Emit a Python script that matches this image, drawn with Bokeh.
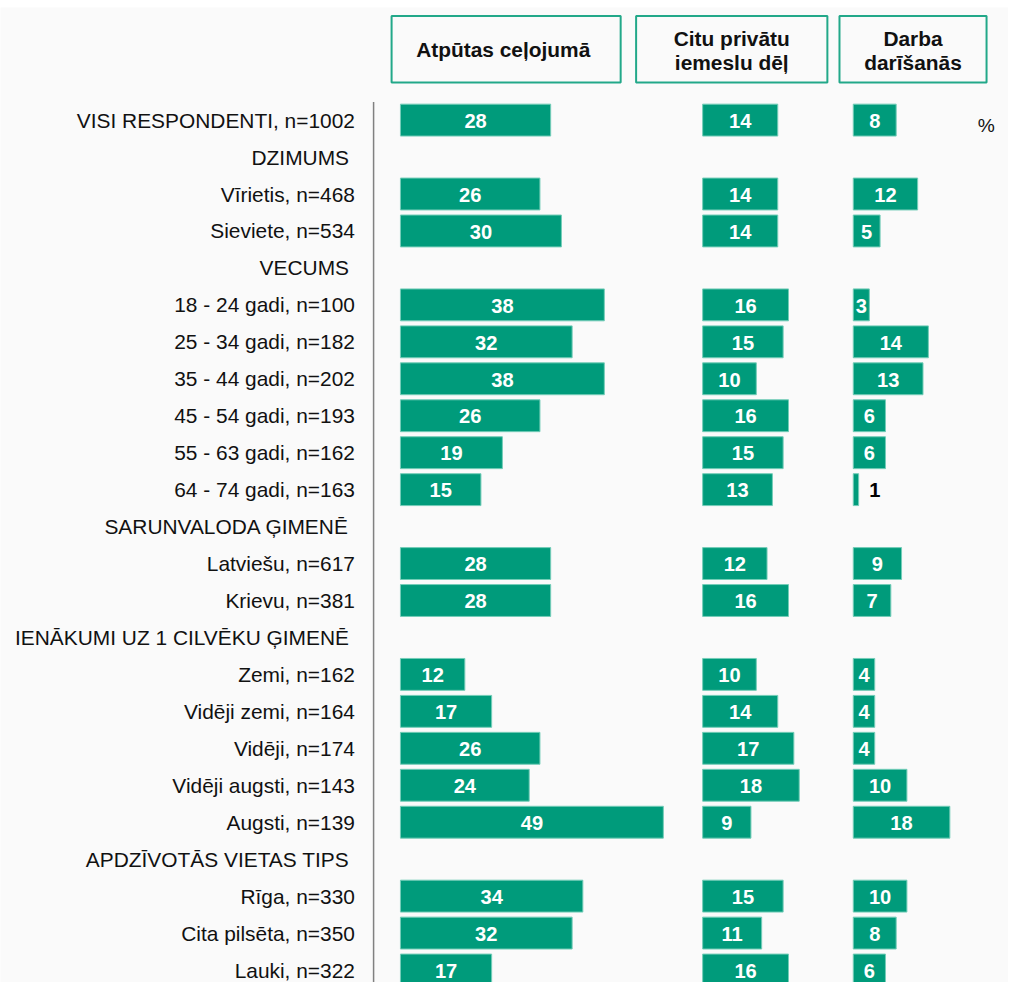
from bokeh.plotting import figure
from bokeh.models import Range1d, ColumnDataSource
from bokeh.core.properties import value
from bokeh.embed import file_html
from bokeh.resources import INLINE

# ---------------- data ----------------
row_labels = [
    "VISI RESPONDENTI, n=1002",
    "DZIMUMS",
    "Vīrietis, n=468", "Sieviete, n=534",
    "VECUMS",
    "18 - 24 gadi, n=100", "25 - 34 gadi, n=182", "35 - 44 gadi, n=202",
    "45 - 54 gadi, n=193", "55 - 63 gadi, n=162", "64 - 74 gadi, n=163",
    "SARUNVALODA ĢIMENĒ",
    "Latviešu, n=617", "Krievu, n=381",
    "IENĀKUMI UZ 1 CILVĒKU ĢIMENĒ",
    "Zemi, n=162", "Vidēji zemi, n=164", "Vidēji, n=174",
    "Vidēji augsti, n=143", "Augsti, n=139",
    "APDZĪVOTĀS VIETAS TIPS",
    "Rīga, n=330", "Cita pilsēta, n=350", "Lauki, n=322",
]
group_headers = ["DZIMUMS", "VECUMS", "SARUNVALODA ĢIMENĒ",
                 "IENĀKUMI UZ 1 CILVĒKU ĢIMENĒ", "APDZĪVOTĀS VIETAS TIPS"]

series_names = [["Atpūtas  ceļojumā"], ["Citu privātu", "iemeslu dēļ"], ["Darba", "darīšanās"]]

atputas = [28, 26, 30, 38, 32, 38, 26, 19, 15, 28, 28, 12, 17, 26, 24, 49, 34, 32, 17]
citu    = [14, 14, 14, 16, 15, 10, 16, 15, 13, 12, 16, 10, 14, 17, 18, 9, 15, 11, 16]
darba   = [8, 12, 5, 3, 14, 13, 6, 6, 1, 9, 7, 4, 4, 4, 10, 18, 10, 8, 6]
unit_label = "%"

# ---------------- layout ----------------
W, H = 1008, 982
F = W / 1024.0           # overall scale of the layout
TOP = 7                  # white strip at the top
K = 5.45                 # layout px per percentage point
S = 37.54                # layout px per row
X0 = 406.3               # layout x of first panel origin
Y0 = 121.5               # layout y of first row centre

def X(px):
    return (px - X0) / K

def Y(py):
    return (py - Y0) / S

def fs(px):
    return "%.1fpx" % (px * F)

offsets = [0.0, X(713.3), X(866.3)]

BAR = "#009b7b"
EDGE = "#74cdb8"
BOX = "#22a889"
FONT = value("Liberation Sans")

p = figure(width=W, height=H, output_backend="svg", toolbar_location=None,
           x_range=Range1d(X(0), X(W / F)),
           y_range=Range1d(Y(H / F), Y(TOP / F)),
           x_axis_location=None, y_axis_location=None,
           min_border=0, min_border_top=TOP)
p.grid.visible = False
p.outline_line_color = None
p.background_fill_color = "#fafafa"
p.border_fill_color = "white"

data_rows = [i for i, lab in enumerate(row_labels) if lab not in group_headers]
head_rows = [i for i, lab in enumerate(row_labels) if lab in group_headers]

# row labels
p.text(x=[X(360)] * len(data_rows), y=data_rows,
       text=[row_labels[i] for i in data_rows],
       text_align="right", text_baseline="middle", text_font=FONT,
       text_font_size=fs(21.2), text_color="#111111")
p.text(x=[X(354)] * len(head_rows), y=head_rows,
       text=[row_labels[i] for i in head_rows],
       text_align="right", text_baseline="middle", text_font=FONT,
       text_font_size=fs(21.2), text_color="#111111")

# separator line
p.segment(x0=[X(379)], y0=[Y(103)], x1=[X(379)], y1=[Y(H / F + 5)],
          line_color="#808080", line_width=1.5)

# bars
for off, vals in zip(offsets, [atputas, citu, darba]):
    src = ColumnDataSource(dict(
        y=data_rows,
        left=[off] * len(vals),
        right=[off + v for v in vals],
    ))
    p.hbar(y="y", left="left", right="right", height=0.863, source=src,
           fill_color=BAR, line_color=EDGE, line_width=1)
    inside = [(r, v) for r, v in zip(data_rows, vals) if v >= 2]
    outside = [(r, v) for r, v in zip(data_rows, vals) if v < 2]
    p.text(x=[off + v / 2 for r, v in inside], y=[r + 0.02 for r, v in inside],
           text=[str(v) for r, v in inside], text_align="center",
           text_baseline="middle", text_font=FONT, text_font_size=fs(20.4),
           text_font_style="bold", text_color="white")
    if outside:
        p.text(x=[off + v + 2.0 for r, v in outside], y=[r + 0.02 for r, v in outside],
               text=[str(v) for r, v in outside], text_align="left",
               text_baseline="middle", text_font=FONT, text_font_size=fs(20.4),
               text_font_style="bold", text_color="#000000")

# header boxes
box_l = [X(397.3), X(645.7), X(852.3)]
box_r = [X(630.0), X(840.0), X(1001.7)]
p.quad(left=box_l, right=box_r, top=[Y(15.7)] * 3, bottom=[Y(83.3)] * 3,
       fill_color=None, line_color=BOX, line_width=2)

hx, hy, ht = [], [], []
for l, r, lines in zip(box_l, box_r, series_names):
    cx = (l + r) / 2
    ys = [50.0] if len(lines) == 1 else [39.0, 63.0]
    for yy, t in zip(ys, lines):
        hx.append(cx)
        hy.append(Y(yy))
        ht.append(t)
p.text(x=hx, y=hy, text=ht, text_align="center", text_baseline="middle",
       text_font=FONT, text_font_size=fs(21.2), text_font_style="bold",
       text_color="#111111")

# unit label
p.text(x=[X(1001.5)], y=[Y(127)], text=[unit_label], text_align="center",
       text_baseline="middle", text_font=FONT, text_font_size=fs(19.5),
       text_color="#111111")

open("out.html", "w").write(file_html(p, INLINE))
